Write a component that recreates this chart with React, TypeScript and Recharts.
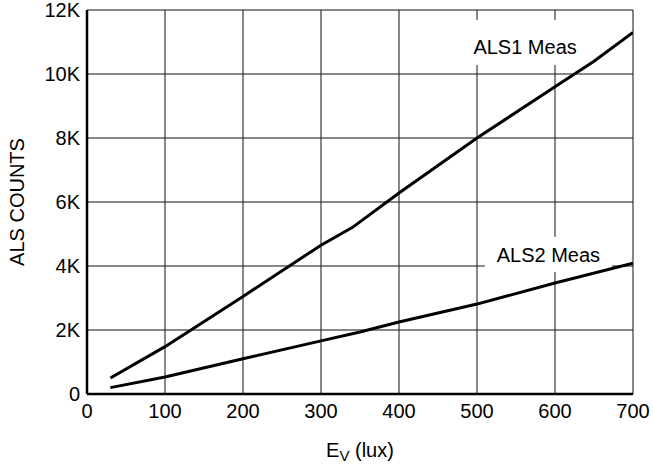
import React from 'react';
import { LineChart, Line, XAxis, YAxis, CartesianGrid, ReferenceArea, Label } from 'recharts';

const als1Lux = [30, 100, 200, 300, 340, 400, 500, 600, 650, 700];
const als1Counts = [500, 1480, 3050, 4650, 5200, 6280, 8000, 9600, 10400, 11300];
const als2Lux = [30, 100, 200, 300, 350, 400, 500, 600, 700];
const als2Counts = [200, 530, 1100, 1660, 1940, 2250, 2810, 3470, 4090];
const xTicks = [0, 100, 200, 300, 400, 500, 600, 700];
const yTicks = [0, 2000, 4000, 6000, 8000, 10000, 12000];
const seriesLabels = [
  { name: 'ALS1 Meas', x1: 491, x2: 640, y1: 10280, y2: 11690, dx: -3, dy: 5 },
  { name: 'ALS2 Meas', x1: 510, x2: 673, y1: 3810, y2: 4910, dx: 0, dy: 1 },
];

const als1Data = als1Lux.map((x, i) => ({ x, y: als1Counts[i] }));
const als2Data = als2Lux.map((x, i) => ({ x, y: als2Counts[i] }));

const FONT = '"Liberation Sans", Arial, Helvetica, sans-serif';

const fmtY = (v: number) => (v === 0 ? '0' : `${v / 1000}K`);

const makeLabelShape = (lbl: typeof seriesLabels[number]) => (props: any) => {
  const { x, y, width, height } = props;
  const cx = x + width / 2;
  const cy = y + height / 2;
  return (
    <g>
      <rect x={x} y={y} width={width} height={height} fill="#fff" />
      <text
        x={cx + lbl.dx}
        y={cy + lbl.dy}
        textAnchor="middle"
        dominantBaseline="central"
        fontSize={20}
        fontFamily={FONT}
        fill="#000"
      >
        {lbl.name}
      </text>
    </g>
  );
};

const XTitle = (props: any) => {
  const { viewBox } = props;
  const cx = viewBox.x + viewBox.width / 2;
  const y = viewBox.y + 63;
  return (
    <text x={cx} y={y} textAnchor="middle" fontSize={20} fontFamily={FONT} fill="#000">
      <tspan>E</tspan>
      <tspan fontSize={15} dy={4}>V</tspan>
      <tspan dy={-4}> (lux)</tspan>
    </text>
  );
};

const YTitle = (props: any) => {
  const { viewBox } = props;
  const cy = viewBox.y + viewBox.height / 2;
  const x = 17;
  return (
    <text
      x={x}
      y={cy}
      textAnchor="middle"
      dominantBaseline="central"
      transform={`rotate(-90 ${x} ${cy})`}
      fontSize={20}
      fontFamily={FONT}
      fill="#000"
    >
      ALS COUNTS
    </text>
  );
};

export default function App() {
  return (
    <div style={{ position: 'absolute', left: 0, top: 0, width: 654, height: 467, background: '#fff' }}>
      <LineChart width={654} height={467} margin={{ top: 10, right: 21, left: 0, bottom: 0 }}>
        <CartesianGrid stroke="#111" strokeWidth={1} />
        <XAxis
          type="number"
          dataKey="x"
          domain={[0, 700]}
          ticks={xTicks}
          interval={0}
          height={73}
          tickLine={false}
          tickSize={0}
          tickMargin={10}
          axisLine={{ stroke: '#000', strokeWidth: 2.5 }}
          tick={{ fill: '#000', fontSize: 20, fontFamily: FONT }}
          allowDataOverflow
        >
          <Label content={<XTitle />} />
        </XAxis>
        <YAxis
          type="number"
          dataKey="y"
          domain={[0, 12000]}
          ticks={yTicks}
          interval={0}
          width={87}
          tickLine={false}
          tickSize={0}
          tickMargin={7}
          tickFormatter={fmtY}
          axisLine={{ stroke: '#000', strokeWidth: 2.5 }}
          tick={{ fill: '#000', fontSize: 20, fontFamily: FONT }}
          allowDataOverflow
        >
          <Label content={<YTitle />} />
        </YAxis>
        {seriesLabels.map((lbl) => (
          <ReferenceArea
            key={lbl.name}
            x1={lbl.x1}
            x2={lbl.x2}
            y1={lbl.y1}
            y2={lbl.y2}
            shape={makeLabelShape(lbl)}
          />
        ))}
        <Line
          data={als1Data}
          dataKey="y"
          type="linear"
          stroke="#000"
          strokeWidth={3}
          dot={false}
          activeDot={false}
          isAnimationActive={false}
        />
        <Line
          data={als2Data}
          dataKey="y"
          type="linear"
          stroke="#000"
          strokeWidth={3}
          dot={false}
          activeDot={false}
          isAnimationActive={false}
        />
      </LineChart>
    </div>
  );
}
